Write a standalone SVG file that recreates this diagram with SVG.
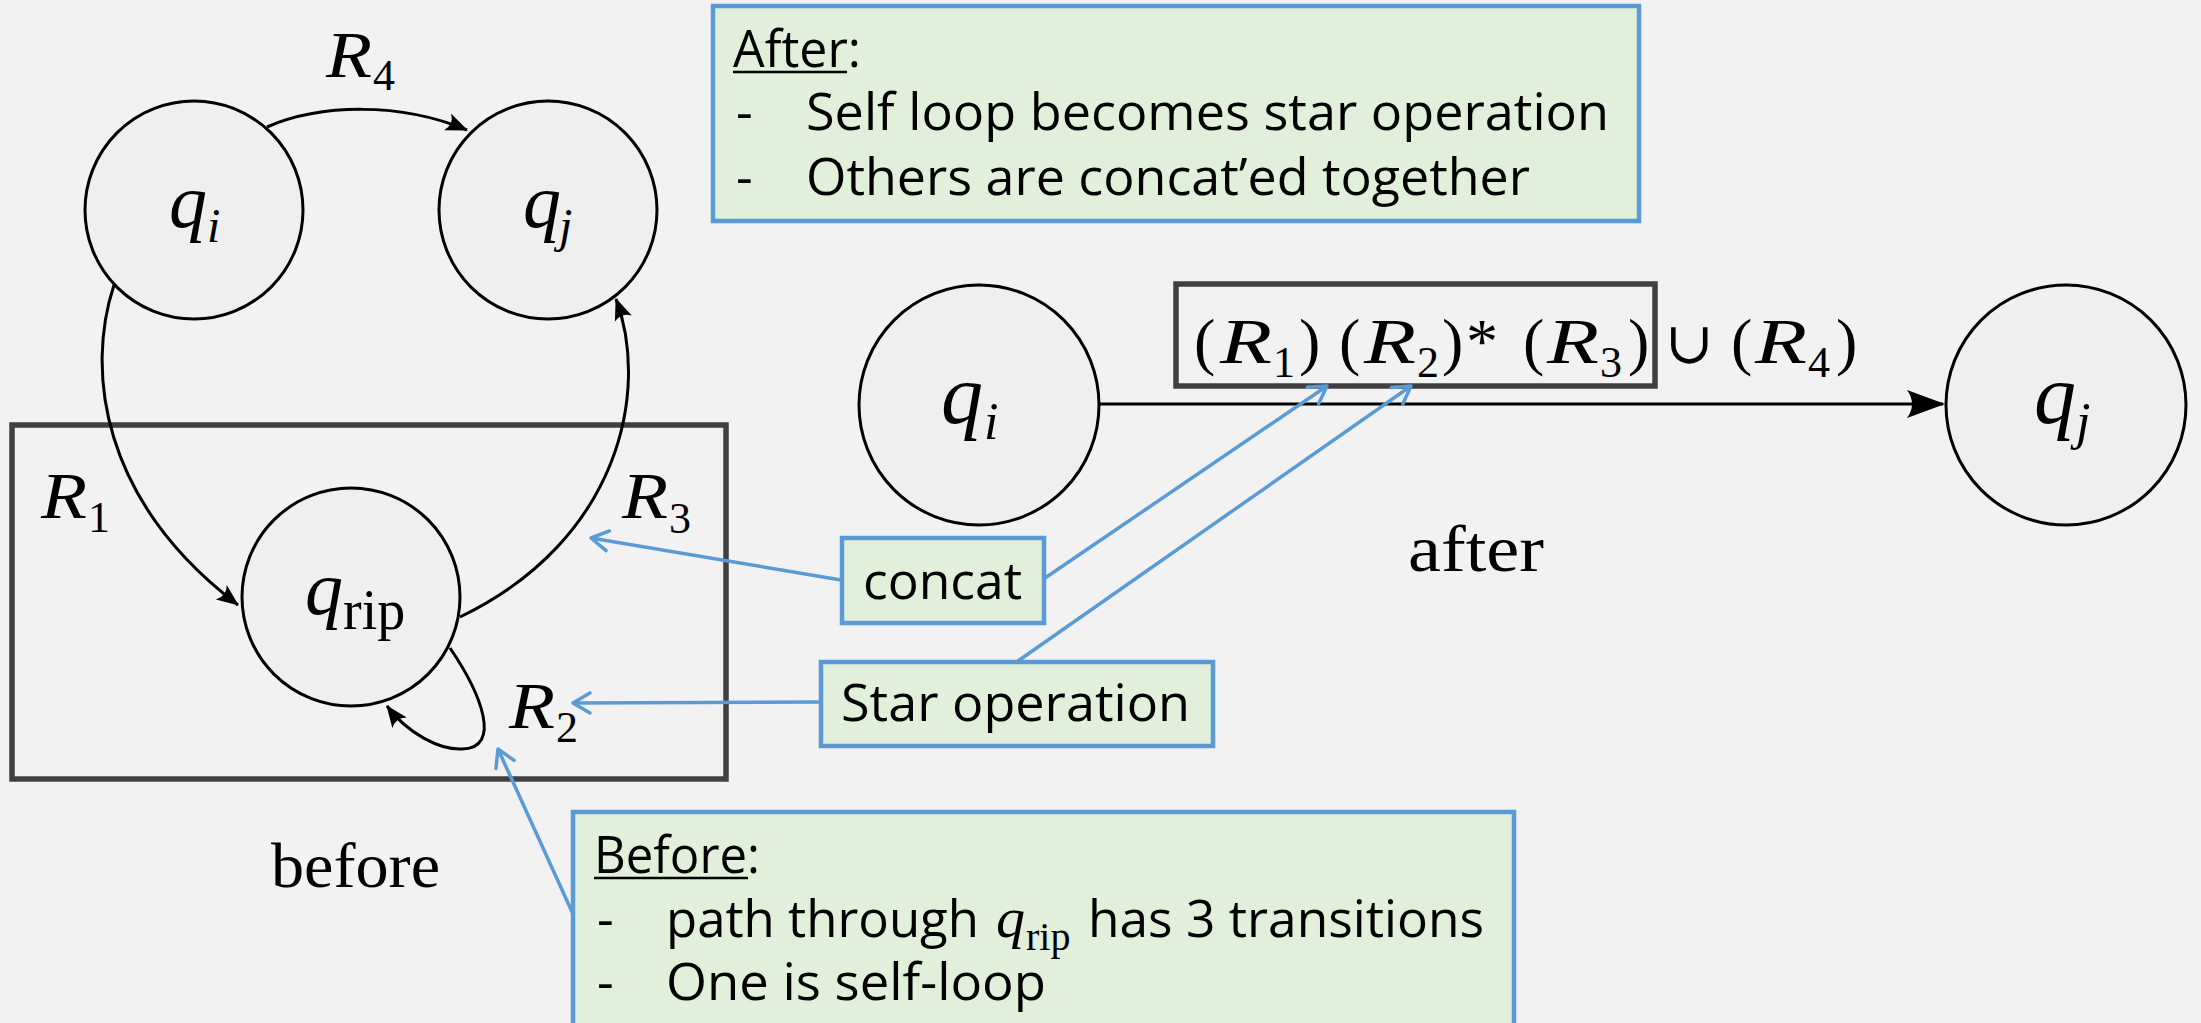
<svg xmlns="http://www.w3.org/2000/svg" width="2201" height="1023" viewBox="0 0 2201 1023">
<style>
.sans{font-family:"Open Sans","Noto Sans",sans-serif;fill:#000}
.m{font-family:"Liberation Serif","DejaVu Serif",serif;fill:#000}
.it{font-style:italic}
.node{fill:#EFEFEF;stroke:#000;stroke-width:3}
.edge{fill:none;stroke:#000;stroke-width:3}
.blue{fill:none;stroke:#5B9BD5;stroke-width:3.5}
.callout{fill:#E2EFDA;stroke:#5B9BD5;stroke-width:4.5}
.frame{fill:none;stroke:#404040;stroke-width:5.5}
</style>
<defs>
<marker id="ah" viewBox="-24 -12 28 24" markerWidth="28" markerHeight="24" refX="0" refY="0" orient="auto" markerUnits="userSpaceOnUse">
<path d="M1,0 L-21,-9 Q-14,0 -21,9 Z" fill="#000"/>
</marker>
<marker id="ahb" viewBox="-40 -16 44 32" markerWidth="44" markerHeight="32" refX="0" refY="0" orient="auto" markerUnits="userSpaceOnUse">
<path d="M2,0 L-36,-14 Q-26,0 -36,14 Z" fill="#000"/>
</marker>
<marker id="ob" viewBox="-22 -14 26 28" markerWidth="26" markerHeight="28" refX="0" refY="0" orient="auto" markerUnits="userSpaceOnUse">
<path d="M-17,-10 L0,0 L-17,10" fill="none" stroke="#5B9BD5" stroke-width="3.5" stroke-linecap="round" stroke-linejoin="round"/>
</marker>
</defs>
<rect x="0" y="0" width="2201" height="1023" fill="#F2F2F2"/>

<rect id="before-frame" class="frame" x="12" y="425" width="714" height="354"/>
<rect id="formula-frame" class="frame" x="1176" y="284" width="479" height="102"/>

<g id="connectors">
<path class="edge" d="M267,127 C320,104 400,102 467,130" marker-end="url(#ah)"/>
<path class="edge" d="M114,285 C86,370 100,500 238,605" marker-end="url(#ah)"/>
<path class="edge" d="M460,617 C620,540 650,390 616,299" marker-end="url(#ah)"/>
<path class="edge" d="M450,648 C482,695 502,748 462,749 C440,750 408,734 387,706" marker-end="url(#ah)"/>
<path class="edge" stroke-width="4" d="M1099,404 L1943,404" marker-end="url(#ahb)"/>
<path class="blue" d="M841,580 L591,538" marker-end="url(#ob)"/>
<path class="blue" d="M821,702 L573,703" marker-end="url(#ob)"/>
<path class="blue" stroke-width="4.5" d="M578,925 L498,749" marker-end="url(#ob)"/>
<path class="blue" d="M1045,578 L1327,386" marker-end="url(#ob)"/>
<path class="blue" d="M1018,661 L1411,386" marker-end="url(#ob)"/>
</g>

<g id="qi">
<circle class="node" cx="194" cy="210" r="109"/>
<text class="m it" x="169" y="227" font-size="76">q</text>
<text class="m it" x="207" y="242" font-size="48">i</text>
</g>
<g id="qj">
<circle class="node" cx="548" cy="210" r="109"/>
<text class="m it" x="523" y="227" font-size="76">q</text>
<text class="m it" x="559" y="242" font-size="48">j</text>
</g>
<g id="qrip">
<circle class="node" cx="351" cy="597" r="109"/>
<text class="m it" x="305" y="614" font-size="76">q</text>
<text class="m" x="343" y="629" font-size="56">rip</text>
</g>
<g id="qi2">
<circle class="node" cx="979" cy="405" r="120"/>
<text class="m it" x="941" y="423" font-size="84">q</text>
<text class="m it" x="984" y="439" font-size="52">i</text>
</g>
<g id="qj2">
<circle class="node" cx="2066" cy="405" r="120"/>
<text class="m it" x="2034" y="423" font-size="84">q</text>
<text class="m it" x="2076" y="439" font-size="52">j</text>
</g>

<g id="edge-labels">
<text class="m it" x="326" y="77" font-size="65" textLength="46" lengthAdjust="spacingAndGlyphs">R</text><text class="m" x="373" y="90" font-size="44">4</text>
<text class="m it" x="41" y="518" font-size="65" textLength="46" lengthAdjust="spacingAndGlyphs">R</text><text class="m" x="88" y="532" font-size="44">1</text>
<text class="m it" x="622" y="518" font-size="65" textLength="46" lengthAdjust="spacingAndGlyphs">R</text><text class="m" x="669" y="533" font-size="44">3</text>
<text class="m it" x="509" y="728" font-size="65" textLength="46" lengthAdjust="spacingAndGlyphs">R</text><text class="m" x="556" y="742" font-size="44">2</text>
</g>

<g id="formula">
<text class="m" y="363" font-size="64" x="1194">(</text>
<text class="m it" y="363" font-size="64" x="1220" textLength="52" lengthAdjust="spacingAndGlyphs">R</text>
<text class="m" y="377" font-size="44" x="1273">1</text>
<text class="m" y="363" font-size="64" x="1299">)</text>
<text class="m" y="363" font-size="64" x="1339">(</text>
<text class="m it" y="363" font-size="64" x="1364" textLength="52" lengthAdjust="spacingAndGlyphs">R</text>
<text class="m" y="377" font-size="44" x="1417">2</text>
<text class="m" y="363" font-size="64" x="1442">)</text>
<text class="m" y="363" font-size="64" x="1466">*</text>
<text class="m" y="363" font-size="64" x="1523">(</text>
<text class="m it" y="363" font-size="64" x="1547" textLength="52" lengthAdjust="spacingAndGlyphs">R</text>
<text class="m" y="377" font-size="44" x="1600">3</text>
<text class="m" y="363" font-size="64" x="1628">)</text>
<text class="m" y="363" font-size="58" x="1665">∪</text>
<text class="m" y="363" font-size="64" x="1731">(</text>
<text class="m it" y="363" font-size="64" x="1755" textLength="52" lengthAdjust="spacingAndGlyphs">R</text>
<text class="m" y="377" font-size="44" x="1808">4</text>
<text class="m" y="363" font-size="64" x="1836">)</text>
</g>

<text id="before-label" class="m" x="271" y="887" font-size="64" textLength="169" lengthAdjust="spacingAndGlyphs">before</text>
<text id="after-label" class="m" x="1408" y="571" font-size="66" textLength="136" lengthAdjust="spacingAndGlyphs">after</text>

<g id="after-box">
<rect class="callout" x="713" y="6" width="926" height="215"/>
<text class="sans" x="733" y="67" font-size="52" textLength="128" lengthAdjust="spacingAndGlyphs">After:</text>
<line x1="733" y1="72" x2="847" y2="72" stroke="#000" stroke-width="2.5"/>
<text class="sans" x="736" y="130" font-size="52">-</text>
<text class="sans" x="806" y="130" font-size="52" textLength="803" lengthAdjust="spacingAndGlyphs">Self loop becomes star operation</text>
<text class="sans" x="736" y="195" font-size="52">-</text>
<text class="sans" x="806" y="195" font-size="52" textLength="724" lengthAdjust="spacingAndGlyphs">Others are concat’ed together</text>
</g>

<g id="concat">
<rect class="callout" x="842" y="538" width="202" height="85" stroke-width="4"/>
<text class="sans" x="863" y="599" font-size="52" textLength="159" lengthAdjust="spacingAndGlyphs">concat</text>
</g>

<g id="star">
<rect class="callout" x="821" y="662" width="392" height="84" stroke-width="4"/>
<text class="sans" x="841" y="721" font-size="52" textLength="349" lengthAdjust="spacingAndGlyphs">Star operation</text>
</g>

<g id="before-box">
<rect class="callout" x="573" y="812" width="941" height="230"/>
<text class="sans" x="594" y="873" font-size="52" textLength="166" lengthAdjust="spacingAndGlyphs">Before:</text>
<line x1="594" y1="878" x2="748" y2="878" stroke="#000" stroke-width="2.5"/>
<text class="sans" x="597" y="937" font-size="52">-</text>
<text class="sans" x="666" y="937" font-size="52" textLength="313" lengthAdjust="spacingAndGlyphs">path through</text>
<text class="m it" x="996" y="937" font-size="58">q</text>
<text class="m" x="1026" y="950" font-size="40">rip</text>
<text class="sans" x="1088" y="937" font-size="52" textLength="396" lengthAdjust="spacingAndGlyphs">has 3 transitions</text>
<text class="sans" x="597" y="1000" font-size="52">-</text>
<text class="sans" x="666" y="1000" font-size="52" textLength="380" lengthAdjust="spacingAndGlyphs">One is self-loop</text>
</g>
</svg>
